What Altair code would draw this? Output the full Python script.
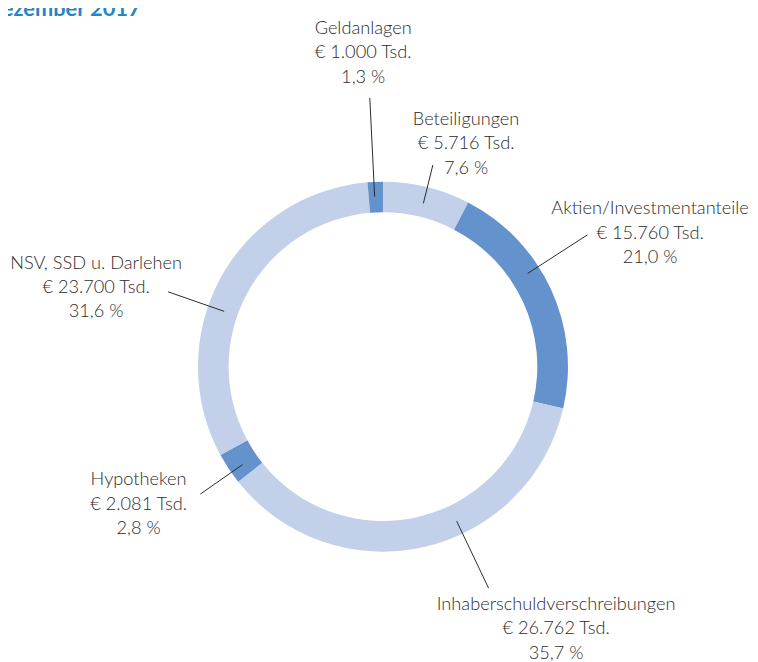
import altair as alt
import pandas as pd

# ---------------- data ----------------
kategorien = [
    "Beteiligungen",
    "Aktien/Investmentanteile",
    "Inhaberschuldverschreibungen",
    "Hypotheken",
    "NSV, SSD u. Darlehen",
    "Geldanlagen",
]
werte_tsd = [5716, 15760, 26762, 2081, 23700, 1000]
anteile_pct = [7.6, 21.0, 35.7, 2.8, 31.6, 1.3]
titel = "Dezember 2017"

# ---------------- layout / style ----------------
farben = ["#C2D0E9", "#6392CC", "#C2D0E9", "#6392CC", "#C2D0E9", "#6392CC"]
CX, CY = 379, 359
R_OUT, R_IN = 187, 156
label_x = [463, 649, 554, 132, 89, 359]
label_y = [115, 205, 605, 479, 260, 23]
leader_angle = [13.9, 57.2, 154.5, 235.1, 289.2, -2.8]
leader_r1 = [170, 174, 173, 173, 170, 172]
leader_r2 = [210, 246, 248, 225, 230, 272]
FONT = "Lato"
TEXT_COLOR = "#2c2c2c"


def de_int(v):
    return f"{v:,}".replace(",", ".")


def de_pct(p):
    return f"{p:.1f}".replace(".", ",") + " %"


df = pd.DataFrame({
    "kategorie": kategorien,
    "wert": werte_tsd,
    "idx": list(range(len(kategorien))),
    "label": [f"{k}\n€ {de_int(w)} Tsd.\n{de_pct(p)}"
              for k, w, p in zip(kategorien, werte_tsd, anteile_pct)],
    "lx": label_x,
    "ly": label_y,
    "ang": leader_angle,
    "r1": leader_r1,
    "r2": leader_r2,
})

base = alt.Chart(df)

ring = base.mark_arc(radius=R_OUT, radius2=R_IN, stroke=None).encode(
    theta=alt.Theta("wert:Q", stack=True),
    order=alt.Order("idx:Q"),
    color=alt.Color("kategorie:N",
                    scale=alt.Scale(domain=kategorien, range=farben),
                    legend=None),
    x=alt.value(CX),
    y=alt.value(CY),
)

leaders = base.transform_calculate(
    x1=f"{CX} + datum.r1 * sin(datum.ang * PI / 180)",
    y1=f"{CY} - datum.r1 * cos(datum.ang * PI / 180)",
    x2=f"{CX} + datum.r2 * sin(datum.ang * PI / 180)",
    y2=f"{CY} - datum.r2 * cos(datum.ang * PI / 180)",
).mark_rule(color="#2b2b2b", strokeWidth=1).encode(
    x=alt.X("x1:Q", scale=None, axis=None),
    y=alt.Y("y1:Q", scale=None, axis=None),
    x2="x2:Q",
    y2="y2:Q",
)

labels = base.mark_text(
    align="center", baseline="alphabetic", lineBreak="\n",
    font=FONT, fontSize=18.4, fontWeight=300, lineHeight=24.5, color=TEXT_COLOR,
).encode(
    x=alt.X("lx:Q", scale=None, axis=None),
    y=alt.Y("ly:Q", scale=None, axis=None),
    text="label:N",
)

title = alt.Chart(pd.DataFrame({"t": [titel]})).mark_text(
    align="right", baseline="alphabetic", font=FONT, fontWeight="bold",
    fontSize=22, color="#2584C6",
).encode(
    x=alt.value(134), y=alt.value(5), text="t:N",
)

chart = alt.layer(ring, leaders, labels, title).properties(
    width=750, height=654,
    autosize=alt.AutoSizeParams(type="none"),
    padding=0,
    background="white",
).configure_view(stroke=None)

chart.save("out.html", embed_options={"renderer": "svg", "actions": False})
